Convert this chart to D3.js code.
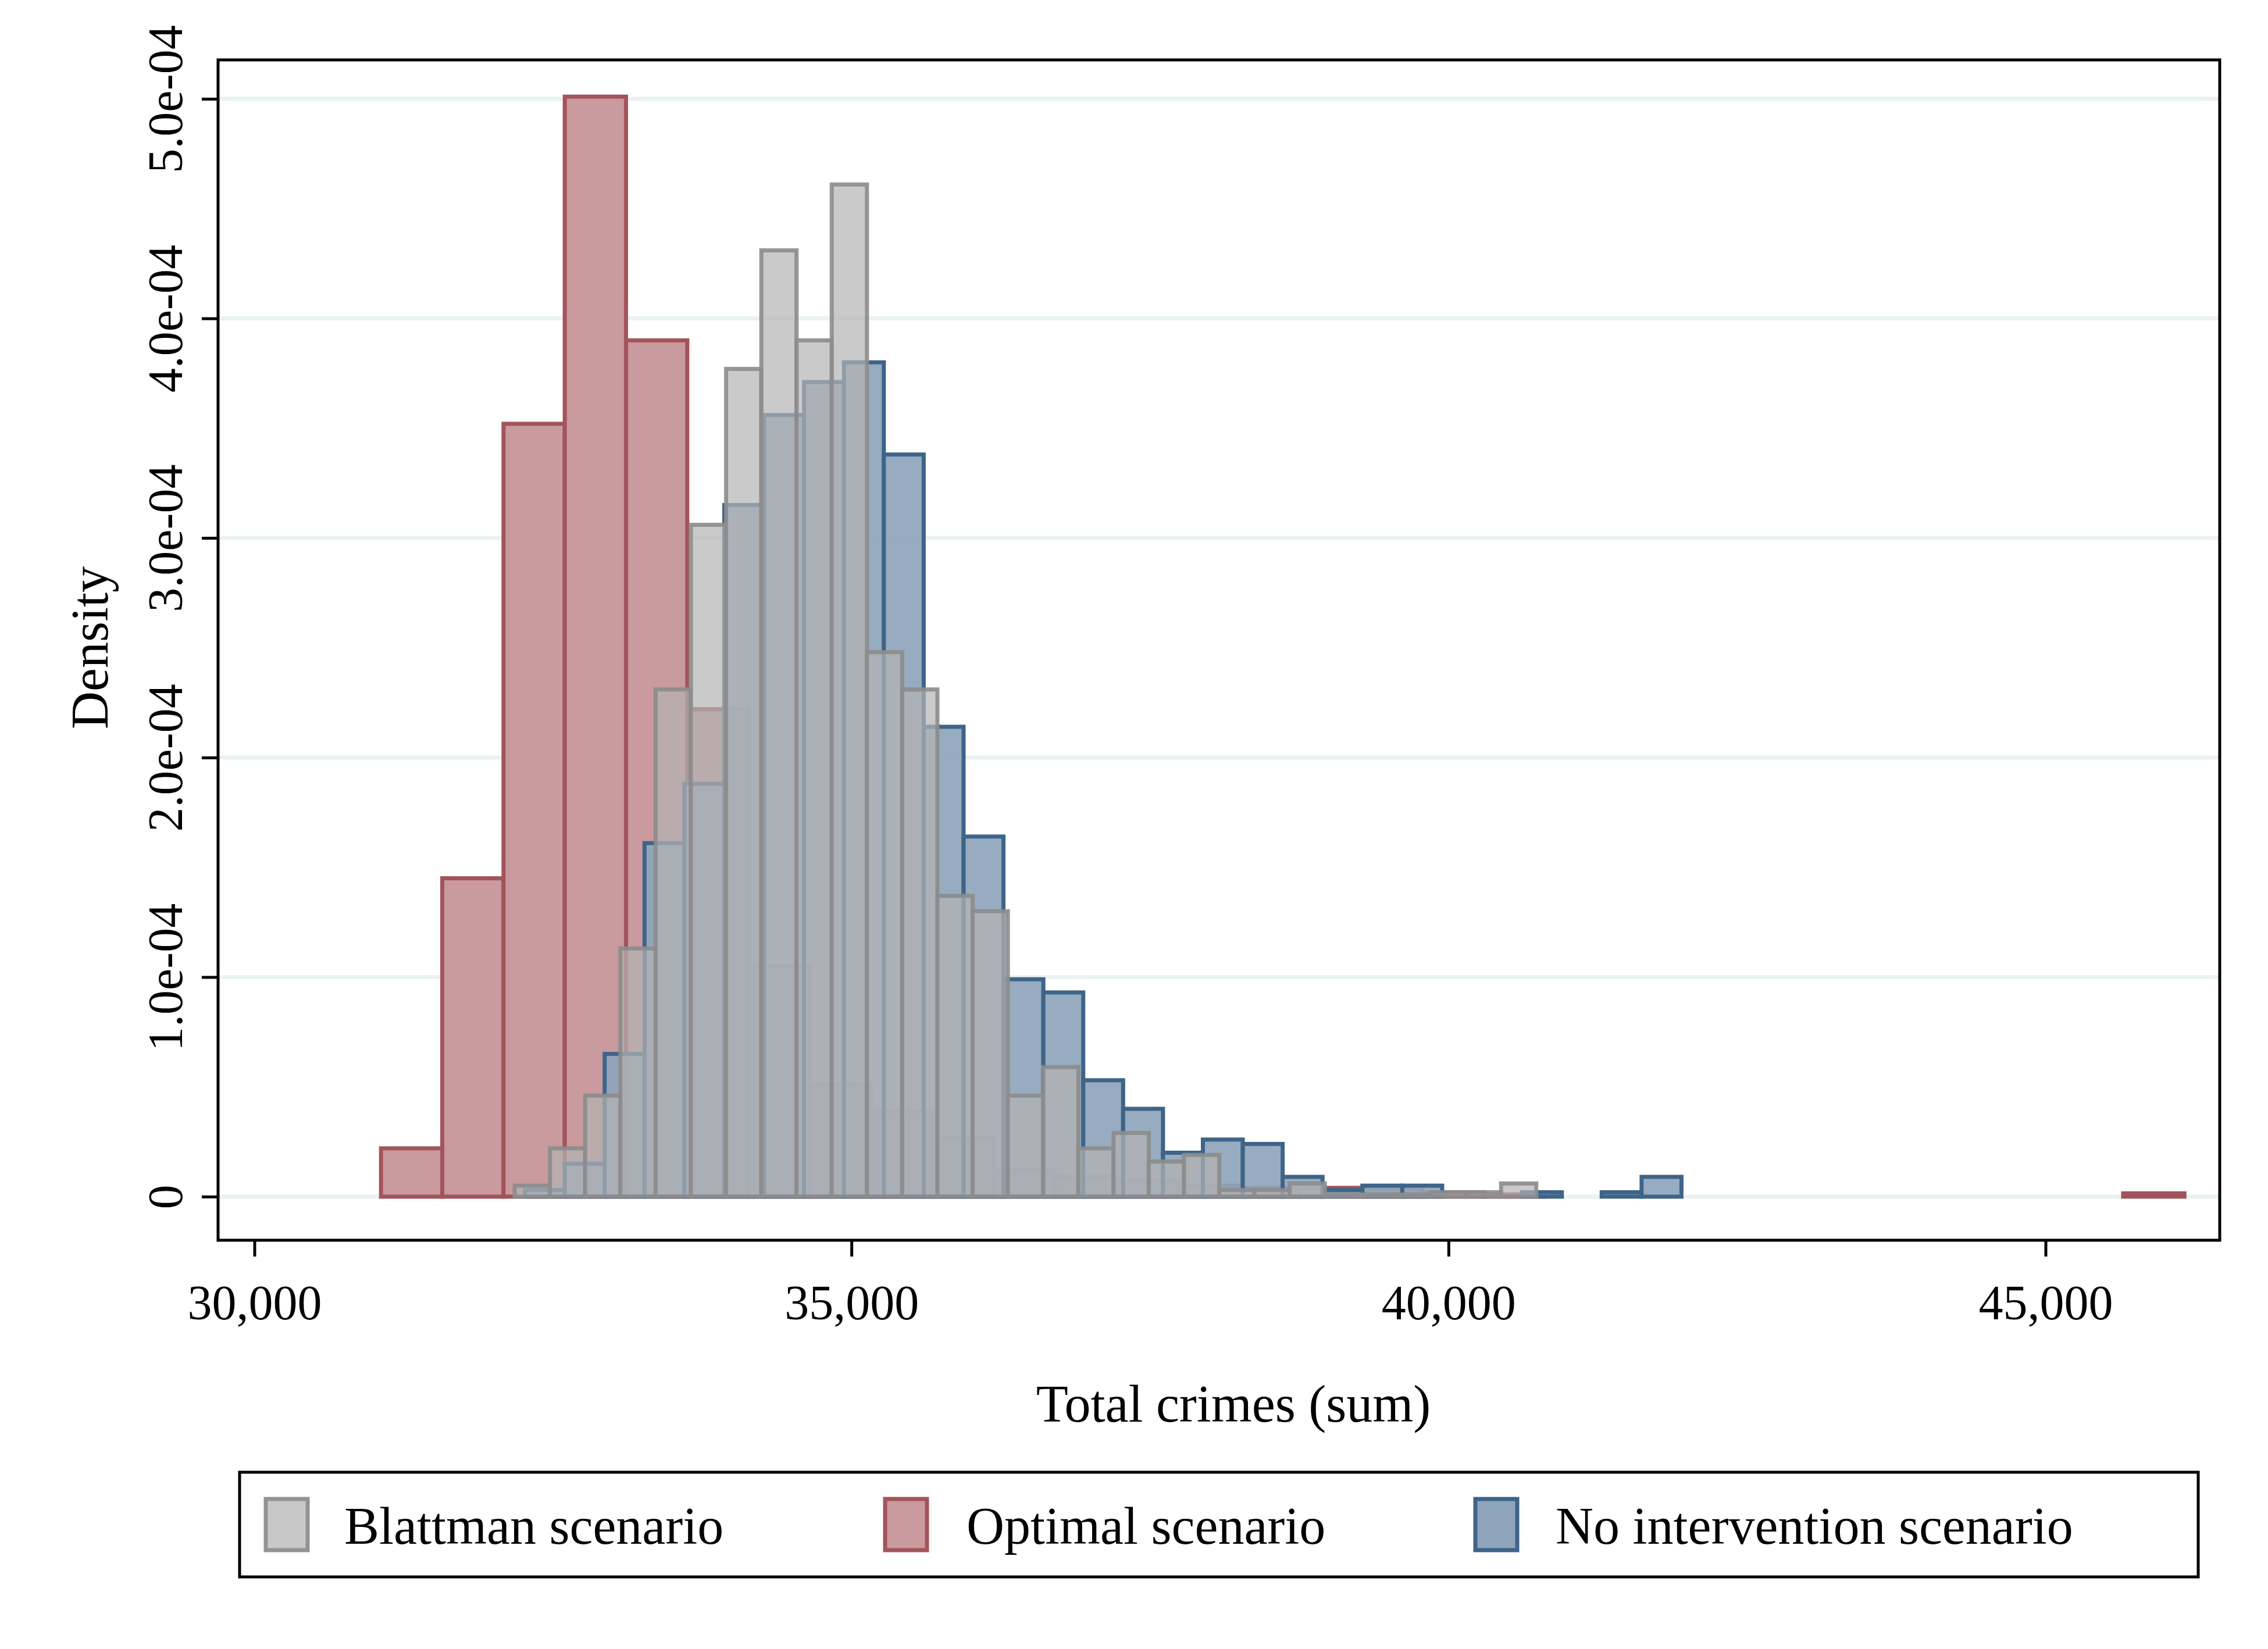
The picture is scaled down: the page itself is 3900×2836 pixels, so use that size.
<!DOCTYPE html>
<html><head><meta charset="utf-8">
<script src="https://cdn.jsdelivr.net/npm/d3@7"></script>
<style>body{margin:0;background:#fff}</style></head>
<body><svg id="c" width="3900" height="2836"></svg>
<script>
// Histogram data (density ×1e-4), bins described by start + constant width
const blattmanStart = 32180, blattmanWidth = 295;
const blattman = [0.05,0.22,0.46,1.13,2.31,3.06,3.77,4.31,3.90,4.61,2.48,2.31,1.37,1.30,0.46,0.59,0.22,0.29,0.16,0.19,0.03,0.03,0.06,0.01,0.01,0.01,0.02,0.02,0.06];
const optimalStart = 31060, optimalWidth = 513;
const optimal = [0.22,1.45,3.52,5.01,3.90,2.22,1.05,0.51,0.39,0.27,0.12,0.09,0.07,0.05,0.04,0.04,0.04,0.02,0.01,0,0,0,0,0,0,0,0,0,0,0.015];
const optimalLastStart = 45650;
const noIntStart = 32265, noIntWidth = 334;
const noInt = [0.03,0.15,0.65,1.61,1.88,3.15,3.56,3.71,3.80,3.38,2.14,1.64,0.99,0.93,0.53,0.40,0.20,0.26,0.24,0.09,0.03,0.05,0.05,0,0,0.02,0,0.02,0.09];
const xTicks = [30000,35000,40000,45000];
const yTicks = [0,1,2,3,4,5];
const seriesNames = ["Blattman scenario","Optimal scenario","No intervention scenario"];

const svg = d3.select("#c");
const font = "'Liberation Serif','DejaVu Serif',serif";
const L=375,T=103,R=3817,B=2133;
const x = d3.scaleLinear().domain([30000,45000]).range([437.5,3517.5]);
const y = d3.scaleLinear().domain([0,5]).range([2058,170]);

// gridlines
svg.append("g").selectAll("line").data(yTicks).join("line")
 .attr("x1",L).attr("x2",R).attr("y1",d=>y(d)).attr("y2",d=>y(d))
 .attr("stroke","#eaf2f3").attr("stroke-width",7);

function bins(vals,start,w,lastStart){
  return vals.map((v,i)=>{
    let s = start+i*w;
    if(lastStart!==undefined && i===vals.length-1) s=lastStart;
    return {x0:s,x1:s+w,v};
  }).filter(d=>d.v>0);
}
function draw(data,fill,fop,stroke,sw){
  svg.append("g").selectAll("rect").data(data).join("rect")
   .attr("x",d=>x(d.x0)).attr("width",d=>x(d.x1)-x(d.x0))
   .attr("y",d=>y(d.v)).attr("height",d=>y(0)-y(d.v))
   .attr("fill",fill).attr("fill-opacity",fop)
   .attr("stroke",stroke).attr("stroke-width",sw);
}
draw(bins(optimal,optimalStart,optimalWidth,optimalLastStart),"#c99a9e",1,"#a3545b",7);
draw(bins(noInt,noIntStart,noIntWidth),"#8ea5bb",0.92,"#3e6489",7);
draw(bins(blattman,blattmanStart,blattmanWidth),"#b4b4b4",0.7,"rgba(140,140,140,0.9)",7);

// frame
svg.append("rect").attr("x",L).attr("y",T).attr("width",R-L).attr("height",B-T)
 .attr("fill","none").attr("stroke","#000").attr("stroke-width",5);

// x axis
const xa = svg.append("g").attr("transform",`translate(0,${B})`)
 .call(d3.axisBottom(x).tickValues(xTicks).tickSize(28).tickFormat(d3.format(",")));
xa.select(".domain").remove();
xa.selectAll("line").attr("stroke","#000").attr("stroke-width",5);
xa.selectAll("text").attr("font-family",font).attr("font-size",84).attr("fill","#000").attr("dy","1.25em");

// y axis
const ya = svg.append("g").attr("transform",`translate(${L},0)`)
 .call(d3.axisLeft(y).tickValues(yTicks).tickSize(28).tickFormat(d=>d===0?"0":d.toFixed(1)+"e-04"));
ya.select(".domain").remove();
ya.selectAll("line").attr("stroke","#000").attr("stroke-width",5);
ya.selectAll("text").attr("font-family",font).attr("font-size",84).attr("fill","#000")
 .attr("transform","rotate(-90)").attr("x",0).attr("y",-62).attr("dy","0").attr("text-anchor","middle");

svg.append("text").attr("x",(L+R)/2+25).attr("y",2445).attr("text-anchor","middle")
 .attr("font-family",font).attr("font-size",90).text("Total crimes (sum)");
svg.append("text").attr("transform",`translate(185,${y(2.5)}) rotate(-90)`).attr("text-anchor","middle")
 .attr("font-family",font).attr("font-size",90).text("Density");

// legend
svg.append("rect").attr("x",412).attr("y",2532).attr("width",3368).attr("height",180)
 .attr("fill","#fff").attr("stroke","#000").attr("stroke-width",5);
const lg = [{fill:"#c8c8c8",stroke:"#939393",lx:457,tx:592},{fill:"#c99a9e",stroke:"#a3545b",lx:1522,tx:1662},{fill:"#8ea5bb",stroke:"#3e6489",lx:2537,tx:2675}];
lg.forEach((d,i)=>{
  svg.append("rect").attr("x",d.lx).attr("y",2578).attr("width",72).attr("height",88)
   .attr("fill",d.fill).attr("stroke",d.stroke).attr("stroke-width",7);
  svg.append("text").attr("x",d.tx).attr("y",2655).attr("font-family",font).attr("font-size",90).text(seriesNames[i]);
});
</script></body></html>
